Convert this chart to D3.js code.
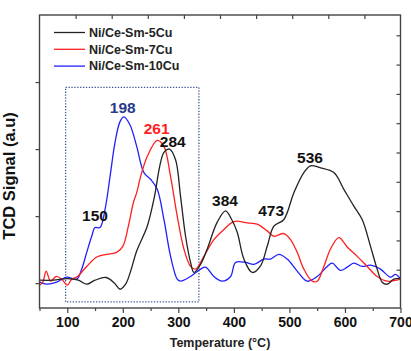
<!DOCTYPE html>
<html>
<head>
<meta charset="utf-8">
<script src="https://cdn.jsdelivr.net/npm/d3@7"></script>
<style>
  body { margin: 0; background: #fff; }
  text { font-family: "Liberation Sans", Arial, sans-serif; font-weight: bold; }
</style>
</head>
<body>
<div id="chart"></div>
<script>
// data (temperature in C, signal in a.u.)
var seriesNames = ["Ni/Ce-Sm-5Cu", "Ni/Ce-Sm-7Cu", "Ni/Ce-Sm-10Cu"];
var seriesColors = ["#222222", "#ff1f1f", "#2020ff"];

var temp5Cu = [50,75,100,120,135,150,170,185,195,205,213,225,244,256,274,284,295,304,313,322,328,340,352,370,385,396,406,418,433,448,460,472,490,508,526,538,556,580,598,616,631,646,658,667,676,688,700];
var signal5Cu = [0.045,0.045,0.067,0.045,-0.015,0.045,0.085,0,-0.09,-0.015,0.15,0.48,0.85,1.25,1.95,2.0,1.84,1.29,0.70,0.31,0.16,0.28,0.51,0.91,1.08,0.95,0.76,0.36,0.16,0.26,0.55,0.85,0.95,1.35,1.65,1.75,1.72,1.65,1.40,1.15,0.95,0.55,0.21,0.015,-0.015,0.06,0.07];

var temp7Cu = [50,56,62,70,80,90,100,108,117,135,153,171,189,200,210,219,225,232,244,262,274,286,298,310,322,331,346,364,382,400,424,442,460,472,490,502,514,526,541,550,562,574,589,604,622,640,658,676,700];
var signal7Cu = [-0.03,0.015,0.18,0.03,0.10,0.06,-0.03,0.06,0.09,0.25,0.39,0.43,0.46,0.55,0.85,1.20,1.35,1.59,1.89,2.13,2.04,1.59,1.00,0.51,0.25,0.21,0.40,0.65,0.80,0.92,0.90,0.88,0.78,0.70,0.74,0.65,0.46,0.21,0.03,0.03,0.25,0.51,0.68,0.54,0.40,0.25,0.10,0.03,0.06];

var temp10Cu = [50,63,81,99,117,126,135,144,150,159,168,177,186,195,202,213,225,238,250,262,274,286,298,304,322,340,349,364,379,394,403,421,436,454,466,481,496,514,532,550,568,577,592,604,616,631,646,664,682,691,700];
var signal10Cu = [0.015,-0.015,0.015,0.09,0.06,0.21,0.46,0.70,0.83,0.83,1.10,1.59,2.10,2.41,2.48,2.36,2.04,1.65,1.55,1.40,0.95,0.40,0.06,0.03,0.10,0.21,0.24,0.10,0.03,0.10,0.31,0.31,0.28,0.36,0.36,0.43,0.36,0.18,0.03,0.10,0.25,0.30,0.19,0.24,0.30,0.25,0.27,0.21,0.09,0.13,0.06];

// peak labels
var peakTemps = [150, 198, 261, 284, 384, 473, 536];
var peakLabelX = [150, 200, 261, 290, 384, 467, 537];
var peakLabelY = [0.93, 2.54, 2.22, 2.03, 1.15, 1.0, 1.8];
var peakColors = ["#111", "#2a3a8c", "#ff1f1f", "#111", "#111", "#111", "#111"];

var xTicks = [100, 200, 300, 400, 500, 600, 700];
var xMinorTicks = [50, 150, 250, 350, 450, 550, 650];
var yTicks = [0, 1, 2, 3];
// dotted box around the low-temperature region
var boxTemp = [97, 337];
var boxSignal = [-0.28, 2.92];

var width = 411, height = 351;
var plotLeft = 39.5, plotRight = 400.5, plotTop = 15, plotBottom = 308;

var svg = d3.select("#chart").append("svg")
    .attr("width", width)
    .attr("height", height);

var x = d3.scaleLinear().domain([50, 700]).range([plotLeft, plotRight]);
var y = d3.scaleLinear().domain([-0.37, 4.0]).range([plotBottom, plotTop]);
// top and right axes only carry unlabeled ticks with their own spacing
var xTop = d3.scaleLinear().domain([0, 10]).range([plotLeft, plotRight]);
var yRight = d3.scaleLinear().domain([0, 10]).range([299, 6]);

// dotted box
svg.append("rect")
    .attr("x", x(boxTemp[0]))
    .attr("y", y(boxSignal[1]))
    .attr("width", x(boxTemp[1]) - x(boxTemp[0]))
    .attr("height", y(boxSignal[0]) - y(boxSignal[1]))
    .attr("fill", "none")
    .attr("stroke", "#3a5590")
    .attr("stroke-width", 1.3)
    .attr("stroke-dasharray", "1.3,1.6");

// curves
var series = [
  { temp: temp5Cu, signal: signal5Cu },
  { temp: temp7Cu, signal: signal7Cu },
  { temp: temp10Cu, signal: signal10Cu }
];

var line = d3.line()
    .x(function(d) { return x(d[0]); })
    .y(function(d) { return y(d[1]); })
    .curve(d3.curveCatmullRom.alpha(0.5));

var plot = svg.append("g");
// blue first, black on top
[2, 1, 0].forEach(function(i) {
  var pts = series[i].temp.map(function(t, k) { return [t, series[i].signal[k]]; });
  plot.append("path")
      .datum(pts)
      .attr("d", line)
      .attr("fill", "none")
      .attr("stroke", seriesColors[i])
      .attr("stroke-width", 1.3);
});

// axes
var axisColor = "#444";
var bottomAxis = svg.append("g")
    .attr("transform", "translate(0," + plotBottom + ")")
    .call(d3.axisBottom(x).tickValues(xTicks).tickSize(5).tickPadding(4).tickFormat(d3.format("d")));
svg.append("g")
    .attr("transform", "translate(0," + plotBottom + ")")
    .call(d3.axisBottom(x).tickValues(xMinorTicks).tickSize(3).tickFormat(""));
svg.append("g")
    .attr("transform", "translate(0," + plotTop + ")")
    .call(d3.axisBottom(xTop).tickValues(d3.range(1, 10)).tickSize(4).tickFormat(""));
svg.append("g")
    .attr("transform", "translate(" + plotLeft + ",0)")
    .call(d3.axisLeft(y).tickValues(yTicks).tickSize(4).tickFormat(""));
svg.append("g")
    .attr("transform", "translate(" + plotRight + ",0)")
    .call(d3.axisLeft(yRight).tickValues(d3.range(1, 10)).tickSize(4).tickFormat(""));

svg.selectAll(".domain").remove();
svg.selectAll(".tick line").attr("stroke", axisColor).attr("stroke-width", 1.2);
bottomAxis.selectAll("text")
    .attr("font-size", 14)
    .attr("fill", "#111");

// frame
svg.append("rect")
    .attr("x", plotLeft).attr("y", plotTop)
    .attr("width", plotRight - plotLeft).attr("height", plotBottom - plotTop)
    .attr("fill", "none")
    .attr("stroke", axisColor)
    .attr("stroke-width", 1.4);

// peak labels
svg.selectAll(".peak")
    .data(peakTemps)
    .enter()
    .append("text")
    .attr("class", "peak")
    .attr("x", function(d, i) { return x(peakLabelX[i]); })
    .attr("y", function(d, i) { return y(peakLabelY[i]); })
    .attr("text-anchor", "middle")
    .attr("font-size", 15.5)
    .attr("fill", function(d, i) { return peakColors[i]; })
    .text(function(d) { return d; });

// legend
var legend = svg.append("g");
seriesNames.forEach(function(name, i) {
  var ly = 32.5 + i * 16.8;
  legend.append("line")
      .attr("x1", 54).attr("x2", 85)
      .attr("y1", ly).attr("y2", ly)
      .attr("stroke", seriesColors[i])
      .attr("stroke-width", 1.3);
  legend.append("text")
      .attr("x", 89)
      .attr("y", ly + 4.3)
      .attr("font-size", 12.5)
      .attr("fill", "#222")
      .text(name);
});

// axis titles
svg.append("text")
    .attr("x", 220)
    .attr("y", 347)
    .attr("text-anchor", "middle")
    .attr("font-size", 12.5)
    .attr("fill", "#222")
    .text("Temperature (\u00B0C)");

svg.append("text")
    .attr("transform", "translate(15,176) rotate(-90)")
    .attr("text-anchor", "middle")
    .attr("font-size", 16.5)
    .attr("fill", "#111")
    .text("TCD Signal (a.u)");
</script>
</body>
</html>
